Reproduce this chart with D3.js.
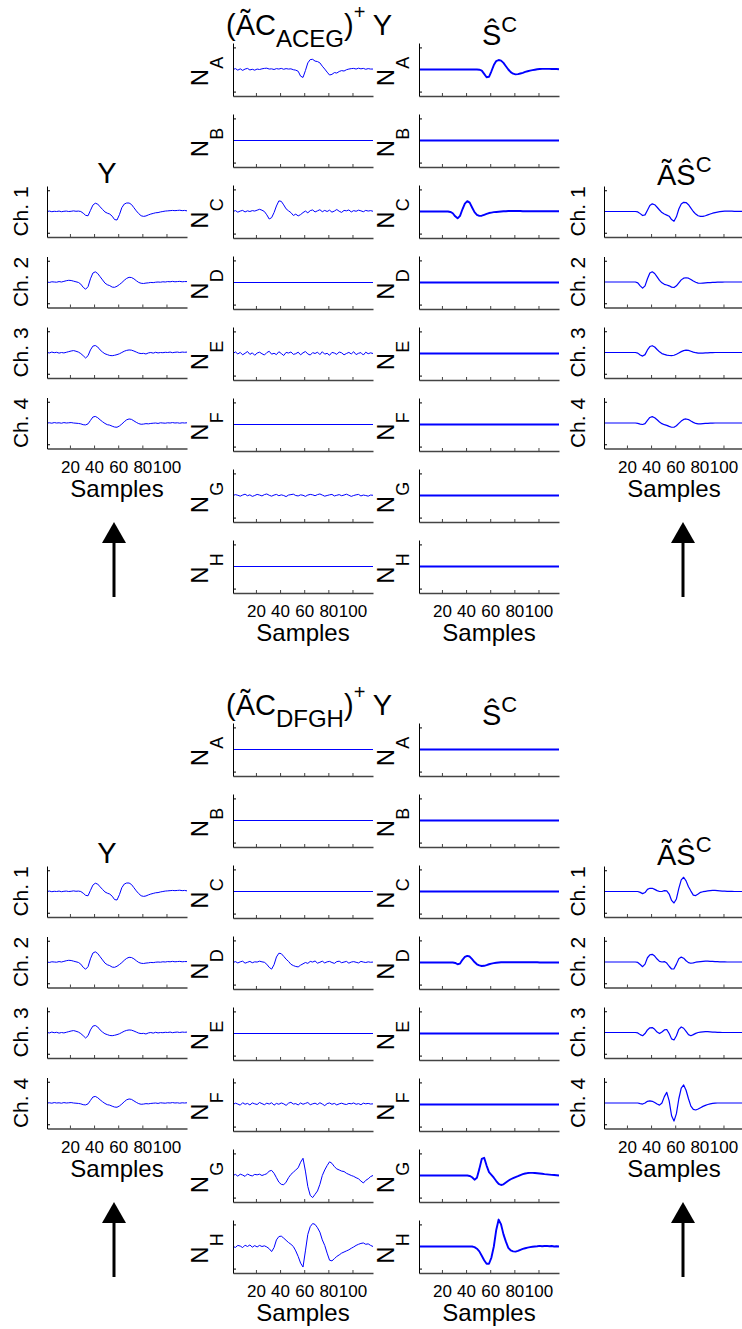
<!DOCTYPE html>
<html><head><meta charset="utf-8">
<script src="https://cdn.jsdelivr.net/npm/d3@7"></script>
<style>body{margin:0;background:#fff} svg{display:block;font-family:Arial,"Liberation Sans",sans-serif}</style>
</head><body><svg id="c" width="742" height="1329"></svg>
<script>
// sample index (x)
const SAMPLES = [1,3,5,7,9,11,13,15,17,19,21,23,25,27,29,31,33,35,37,39,41,43,45,47,49,51,53,55,57,59,61,63,65,67,69,71,73,75,77,79,81,83,85,87,89,91,93,95,97,99,101,103,105,107,109,111,113,115,117];
const X_TICKS = [20,40,60,80,100];
const Y_TICKS = [-1,1];
const CHANNELS = ["Ch. 1","Ch. 2","Ch. 3","Ch. 4"];
const SOURCES = ["A","B","C","D","E","F","G","H"];

// observed channels Y (same in both halves)
const yCh1 = [0.00,0.02,-0.01,0.01,0.00,0.02,-0.01,0.01,0.02,0.00, 0.01,0.03,0.01,0.02,0.00,-0.08,-0.18,-0.20,0.05,0.30, 0.39,0.35,0.22,0.10,-0.02,-0.08,-0.12,-0.22,-0.38,-0.40, -0.15,0.18,0.35,0.40,0.40,0.33,0.18,0.03,-0.10,-0.20, -0.23,-0.21,-0.16,-0.12,-0.09,-0.06,-0.05,-0.02,0.00,0.02, 0.03,0.04,0.05,0.04,0.05,0.06,0.04,0.05,0.03];
const yCh2 = [0.00,-0.02,0.01,0.00,-0.01,0.02,0.00,0.03,0.06,0.08, 0.07,0.04,0.01,-0.02,-0.10,-0.25,-0.34,-0.22,0.15,0.42, 0.48,0.40,0.25,0.10,-0.05,-0.13,-0.17,-0.24,-0.25,-0.20, -0.12,-0.03,0.08,0.17,0.22,0.21,0.15,0.06,-0.02,-0.06, -0.07,-0.05,-0.04,-0.02,-0.03,-0.01,0.00,-0.01,0.01,0.00, 0.02,0.01,0.03,0.01,0.02,0.03,0.01,0.02,0.02];
const yCh3 = [0.00,-0.02,0.02,-0.01,0.01,-0.03,0.00,-0.02,0.01,0.04, 0.07,0.09,0.06,0.02,-0.05,-0.15,-0.26,-0.15,0.12,0.30, 0.33,0.26,0.12,0.02,-0.06,-0.10,-0.14,-0.15,-0.13,-0.10, -0.06,0.00,0.06,0.10,0.12,0.11,0.07,0.02,-0.03,-0.05, -0.04,-0.07,-0.02,0.00,-0.03,0.01,-0.02,0.00,-0.01,0.01, 0.00,0.02,-0.01,0.01,0.02,0.00,0.02,0.01,0.02];
const yCh4 = [0.00,0.01,-0.01,0.02,0.00,0.01,-0.01,0.02,0.00,0.01, 0.02,0.00,-0.01,-0.02,-0.04,-0.08,-0.09,-0.04,0.12,0.28, 0.31,0.25,0.15,0.06,-0.02,-0.08,-0.10,-0.15,-0.19,-0.20, -0.14,-0.05,0.06,0.15,0.19,0.17,0.10,0.03,-0.03,-0.06, -0.05,-0.03,-0.04,-0.02,-0.01,0.00,-0.02,0.01,0.00,-0.01, 0.01,0.00,0.02,0.00,0.01,-0.01,0.01,0.00,0.01];

// top half: (AC_ACEG)^+ Y
const topPinvA = [0.00,0.04,-0.03,0.03,-0.04,0.02,0.05,-0.02,0.01,-0.03, 0.02,0.00,0.03,0.05,0.06,0.02,0.03,0.00,0.04,0.02, 0.05,0.01,0.04,0.02,0.03,-0.01,-0.03,-0.08,-0.30,-0.36, -0.05,0.30,0.45,0.46,0.38,0.36,0.30,0.15,0.02,-0.12, -0.25,-0.22,-0.14,-0.16,-0.09,-0.05,-0.07,-0.01,0.02,0.04, 0.05,0.02,0.06,0.03,0.05,0.01,0.04,0.02,0.02];
const topPinvC = [0.00,0.04,-0.03,0.02,0.05,-0.02,0.03,0.00,0.04,0.02, 0.06,0.10,0.06,0.00,-0.15,-0.34,-0.28,-0.05,0.25,0.48, 0.46,0.30,0.12,0.03,-0.05,-0.18,-0.12,-0.20,-0.14,-0.05, 0.02,-0.06,0.04,0.07,-0.02,0.03,0.08,-0.01,0.05,0.00, 0.06,-0.03,0.02,0.09,0.01,-0.04,0.05,0.03,0.07,-0.02, 0.04,0.01,0.06,0.03,-0.01,0.05,0.02,0.04,0.01];
const topPinvE = [0.00,0.07,-0.02,0.05,-0.06,0.01,0.09,-0.04,0.03,-0.08, 0.02,0.06,-0.01,-0.07,0.04,0.10,-0.03,0.01,-0.05,0.08, 0.00,-0.09,0.05,0.02,0.07,-0.04,-0.01,0.06,-0.06,0.03, 0.09,-0.02,-0.07,0.04,0.00,0.06,-0.05,0.08,-0.03,0.01, -0.08,0.05,0.02,-0.04,0.07,0.03,-0.06,0.00,0.05,-0.02, 0.08,-0.05,0.01,0.04,-0.07,0.06,-0.01,0.03,0.00];
const topPinvG = [0.00,0.04,0.01,-0.03,0.02,0.06,-0.01,0.03,-0.04,0.00, 0.05,0.02,-0.02,0.04,0.07,0.01,-0.03,0.02,0.05,-0.01, 0.03,0.00,-0.05,0.02,0.04,0.06,0.00,-0.02,0.03,0.01, -0.04,0.02,0.05,0.03,-0.01,0.04,0.07,0.02,-0.03,0.00, 0.03,0.05,-0.02,0.01,0.04,-0.01,0.02,0.06,0.01,-0.04, 0.00,0.03,0.05,-0.02,0.02,0.00,-0.03,0.02,0.01];
// top half: S-hat
const topShatA = [0,0,0,0,0,0,0,0,0,0, 0,0,0,0,0,0,0,0,0,0, 0,0,0,0,0,-0.01,-0.05,-0.20,-0.35,-0.33, -0.08,0.20,0.38,0.43,0.40,0.30,0.15,0.00,-0.12,-0.19, -0.22,-0.21,-0.18,-0.15,-0.11,-0.08,-0.05,-0.03,-0.01,0.01, 0.02,0.03,0.03,0.03,0.03,0.02,0.02,0.02,0.01];
const topShatC = [0,0,0,0,0,0,0,0,0,0, 0,0,0,-0.02,-0.08,-0.22,-0.31,-0.20,0.10,0.36, 0.47,0.40,0.18,-0.03,-0.15,-0.20,-0.19,-0.15,-0.11,-0.07, -0.05,-0.03,-0.02,-0.01,0.00,0.01,0.01,0.02,0.02,0.02, 0.02,0.02,0.02,0.01,0.01,0.01,0.01,0.01,0.01,0.01, 0.01,0.01,0.01,0.01,0.01,0.01,0.01,0.01,0.01];
// top half: A S-hat
const topRec1 = [0,0,0,0,0,0,0,0,0,0, 0,0,0,0,-0.02,-0.10,-0.19,-0.16,0.06,0.28, 0.36,0.32,0.20,0.07,-0.05,-0.12,-0.17,-0.22,-0.38,-0.46, -0.25,0.12,0.35,0.43,0.42,0.32,0.16,0.00,-0.12,-0.20, -0.23,-0.23,-0.20,-0.16,-0.12,-0.08,-0.05,-0.03,-0.01,0.01, 0.02,0.02,0.02,0.02,0.01,0.01,0.01,0.01,0.01];
const topRec2 = [0,0,0,0,0,0,0,0,0,0, 0,0,0,0,-0.04,-0.18,-0.29,-0.18,0.15,0.42, 0.48,0.40,0.24,0.08,-0.04,-0.11,-0.14,-0.18,-0.24,-0.26, -0.18,-0.04,0.10,0.18,0.20,0.18,0.12,0.05,-0.01,-0.05, -0.06,-0.05,-0.04,-0.03,-0.03,-0.02,-0.02,-0.01,-0.01,-0.01, 0,0,0,0,0,0,0,0,0];
const topRec3 = [0,0,0,0,0,0,0,0,0,0, 0,0,0,0,-0.03,-0.12,-0.17,-0.10,0.12,0.28, 0.32,0.26,0.14,0.03,-0.05,-0.09,-0.12,-0.14,-0.15,-0.13, -0.08,-0.02,0.04,0.09,0.11,0.10,0.06,0.02,-0.01,-0.03, -0.03,-0.03,-0.02,-0.02,-0.01,-0.01,0,0,0,0, 0,0,0,0,0,0,0,0,0];
const topRec4 = [0,0,0,0,0,0,0,0,0,0, 0,0,0,0,-0.02,-0.05,-0.07,-0.03,0.12,0.26, 0.30,0.25,0.15,0.05,-0.03,-0.08,-0.11,-0.16,-0.20,-0.20, -0.13,-0.02,0.09,0.17,0.19,0.16,0.09,0.03,-0.02,-0.04, -0.04,-0.03,-0.02,-0.02,-0.01,-0.01,0,0,0,0, 0,0,0,0,0,0,0,0,0];

// bottom half: (AC_DFGH)^+ Y
const botPinvD = [0.00,0.04,-0.02,0.03,0.06,-0.03,0.01,0.05,-0.01,0.03, 0.02,0.06,0.03,0.01,-0.08,-0.22,-0.30,-0.10,0.25,0.42, 0.40,0.28,0.15,0.05,-0.08,-0.14,-0.18,-0.20,-0.12,-0.06, 0.00,-0.04,0.05,0.02,0.07,-0.03,0.01,0.06,-0.02,0.03, 0.05,0.00,-0.04,0.04,0.06,-0.01,0.02,0.05,-0.03,0.02, 0.04,0.01,-0.02,0.05,0.02,0.00,0.03,0.01,0.02];
const botPinvF = [0.00,0.06,0.02,-0.03,0.08,0.01,0.05,-0.02,0.07,0.03, 0.00,0.09,0.04,-0.01,0.06,0.02,0.08,-0.03,0.05,0.01, 0.07,0.03,-0.04,0.06,0.10,0.02,0.04,-0.02,0.07,0.01, 0.05,0.09,-0.01,0.03,0.06,0.00,0.08,0.02,-0.05,0.04, 0.07,0.01,0.05,-0.02,0.03,0.06,0.02,0.00,0.05,0.03, 0.07,0.01,0.04,-0.01,0.06,0.03,0.05,0.02,0.03];
const botPinvG = [0.00,0.05,-0.03,0.06,0.02,-0.04,0.07,0.01,-0.02,0.05, 0.03,0.06,0.00,0.04,0.08,0.20,0.23,0.10,-0.10,-0.30, -0.40,-0.42,-0.30,-0.10,0.05,0.15,0.25,0.35,0.60,0.78, 0.20,-0.50,-0.90,-1.00,-0.85,-0.70,-0.40,0.00,0.25,0.45, 0.62,0.55,0.40,0.30,0.25,0.20,0.18,0.10,0.05,0.00, -0.04,-0.10,-0.15,-0.25,-0.34,-0.22,-0.15,-0.05,0.00];
const botPinvH = [0.00,-0.04,0.05,0.02,-0.05,0.06,0.00,0.07,-0.03,0.04, -0.02,0.05,0.00,0.03,-0.02,-0.10,-0.23,-0.05,0.30,0.45, 0.47,0.38,0.28,0.18,0.10,0.00,-0.20,-0.45,-0.75,-0.93, -0.20,0.55,0.90,1.04,1.00,0.85,0.65,0.30,0.05,-0.30, -0.62,-0.65,-0.55,-0.45,-0.38,-0.30,-0.25,-0.20,-0.15,-0.08, -0.02,0.05,0.10,0.14,0.16,0.10,0.12,0.05,0.00];
// bottom half: S-hat
const botShatD = [0,0,0,0,0,0,0,0,0,0, 0,0,0,0,0,-0.02,-0.08,-0.05,0.12,0.25, 0.30,0.27,0.15,0.02,-0.08,-0.13,-0.16,-0.15,-0.12,-0.08, -0.05,-0.03,-0.01,0,0.01,0.01,0.01,0.01,0.01,0.01, 0.01,0.01,0.01,0.01,0.01,0.01,0.01,0.01,0.01,0.01, 0,0,0,0,0,0,0,0,0];
const botShatG = [0,0,0,0,0,0,0,0,0,0, 0,0,0,0,0,0,0,0,0,0, 0,-0.02,-0.08,-0.19,-0.10,0.30,0.75,0.80,0.45,0.15, 0.03,-0.10,-0.25,-0.38,-0.43,-0.40,-0.32,-0.24,-0.17,-0.12, -0.07,-0.03,0.02,0.06,0.09,0.11,0.12,0.12,0.11,0.10, 0.09,0.08,0.06,0.05,0.04,0.03,0.02,0.01,0.00];
const botShatH = [0,0,0,0,0,0,0,0,0,0, 0,0,0,0,0,0,0,0,0,0, 0,0,0,-0.03,-0.10,-0.22,-0.42,-0.62,-0.78,-0.78, -0.50,0.00,0.75,1.22,1.00,0.55,0.22,-0.06,-0.18,-0.22, -0.23,-0.20,-0.15,-0.11,-0.08,-0.05,-0.03,-0.01,0.00,0.01, 0.03,0.01,0.02,0.03,0.01,0.02,0.00,0.01,0.00];
// bottom half: A S-hat
const botRec1 = [0,0,0,0,0,0,0,0,0,0, 0,0,0,0,0,-0.04,-0.10,-0.05,0.10,0.15, 0.15,0.10,0.04,0.00,0.00,0.04,0.03,-0.12,-0.42,-0.54, -0.35,0.15,0.55,0.67,0.50,0.22,0.02,-0.17,-0.19,-0.12, -0.04,-0.01,0.01,0.03,0.04,0.05,0.05,0.04,0.03,0.02, 0.02,0.01,0.01,0.01,0,0,0,0,0];
const botRec2 = [0,0,0,0,0,0,0,0,0,0, 0,0,0,0,-0.02,-0.12,-0.22,-0.10,0.20,0.34, 0.36,0.28,0.14,0.03,0.00,0.02,-0.05,-0.20,-0.33,-0.32, -0.10,0.15,0.23,0.18,0.06,-0.03,-0.06,-0.04,-0.01,0.01, 0.02,0.03,0.04,0.04,0.03,0.03,0.02,0.02,0.01,0.01, 0.01,0,0,0,0,0,0,0,0];
const botRec3 = [0,0,0,0,0,0,0,0,0,0, 0,0,0,0,-0.02,-0.10,-0.15,-0.05,0.12,0.22, 0.23,0.15,0.02,-0.05,0.02,0.12,0.14,-0.05,-0.30,-0.35, -0.15,0.15,0.26,0.20,0.05,-0.10,-0.15,-0.10,-0.04,0.00, 0.02,0.03,0.04,0.04,0.03,0.02,0.02,0.01,0.01,0.00, 0,0,0,0,0,0,0,0,0];
const botRec4 = [0,0,0,0,0,0,0,0,0,0, 0,0,0,0,0,-0.03,-0.05,0.00,0.08,0.10, 0.08,0.02,-0.05,-0.10,0.00,0.30,0.50,0.10,-0.60,-0.85, -0.50,0.20,0.70,0.85,0.60,0.20,-0.15,-0.30,-0.33,-0.28, -0.22,-0.16,-0.11,-0.07,-0.04,-0.02,-0.01,0,0,0, 0,0,0,0,0,0,0,0,0];

const HALVES = [
  { dy: 0, sub: "ACEG",
    pinv: [topPinvA,null,topPinvC,null,topPinvE,null,topPinvG,null],
    shat: [topShatA,null,topShatC,null,null,null,null,null],
    rec: [topRec1,topRec2,topRec3,topRec4] },
  { dy: 680, sub: "DFGH",
    pinv: [null,null,null,botPinvD,null,botPinvF,botPinvG,botPinvH],
    shat: [null,null,null,botShatD,null,null,botShatG,botShatH],
    rec: [botRec1,botRec2,botRec3,botRec4] }
];
const OBS = [yCh1,yCh2,yCh3,yCh4];

// ---------- drawing ----------
const svg = d3.select("#c");
const PW = 140;
const xS = d3.scaleLinear().domain([1,117]).range([0,PW]);
const BLUE = "#0000ff";

function panel(x0, y0, h, series, o) {
  const g = svg.append("g").attr("transform", `translate(${x0},${y0})`);
  const yS = d3.scaleLinear().domain([-1.2,1.2]).range([h,0]);
  const line = d3.line().x((d,i)=>xS(SAMPLES[i])).y(d=>yS(d));
  if (series) {
    g.append("path").datum(series).attr("d", line).attr("fill","none")
      .attr("stroke", BLUE).attr("stroke-width", o.lw).attr("stroke-linejoin","round");
  } else {
    g.append("path").datum([0,0]).attr("d", d3.line().x((d,i)=>xS(i?117:1)).y(d=>yS(d)))
      .attr("fill","none").attr("stroke", BLUE).attr("stroke-width", o.lw);
  }
  const ax = d3.axisBottom(xS).tickValues(X_TICKS).tickSizeInner(-3).tickSizeOuter(0).tickPadding(12);
  if (!o.labels) ax.tickFormat("");
  const gx = g.append("g").attr("transform", `translate(0,${h})`).call(ax);
  gx.select(".domain").attr("stroke","#444").attr("stroke-width",1.6);
  gx.selectAll(".tick line").attr("stroke","#444");
  gx.selectAll("text").attr("font-size",17).attr("font-family","Arial, Liberation Sans, sans-serif").attr("fill","#000");
  const ay = d3.axisLeft(yS).tickValues(Y_TICKS).tickSizeInner(-3).tickSizeOuter(0).tickFormat("");
  const gy = g.append("g").call(ay);
  gy.select(".domain").attr("stroke","#000");
  gy.selectAll(".tick line").attr("stroke","#000");
  if (o.labels) {
    g.append("text").attr("x", PW/2).attr("y", h+48).attr("text-anchor","middle")
      .attr("font-size",24).text("Samples");
  }
  if (o.ch) {
    g.append("text").attr("transform", `translate(-19,${h/2}) rotate(-90)`)
      .attr("text-anchor","middle").attr("font-size",21).text(o.ch);
  }
  if (o.src) {
    const t = g.append("text").attr("transform", `translate(-25,${h/2+2}) rotate(-90)`)
      .attr("text-anchor","middle").attr("font-size",24);
    t.append("tspan").text("N");
    t.append("tspan").attr("dy",15).attr("font-size",18).text(o.src);
  }
}

function arrow(x, y0) {
  svg.append("line").attr("x1",x).attr("x2",x).attr("y1",y0+18).attr("y2",y0+75)
    .attr("stroke","#000").attr("stroke-width",3);
  svg.append("path").attr("d",`M${x},${y0} L${x-12},${y0+21} L${x+12},${y0+21} Z`).attr("fill","#000");
}

function shatTitle(x, y, withA) {
  const t = svg.append("text").attr("x", x).attr("y", y).attr("font-size",29);
  t.append("tspan").text(withA ? "ÃŜ" : "Ŝ");
  t.append("tspan").attr("font-size",22).attr("dy",-13).text("C");
}

HALVES.forEach(H => {
  const dy = H.dy;
  const xY = 47, xP = 233, xS2 = 419, xR = 604;
  for (let k = 0; k < 8; k++) {
    const top = 43 + 71*k + dy;
    panel(xP, top, 53, H.pinv[k], {lw:1, labels: k===7, src: SOURCES[k]});
    panel(xS2, top, 53, H.shat[k], {lw:1.9, labels: k===7, src: SOURCES[k]});
  }
  for (let k = 0; k < 4; k++) {
    const top = 186 + 70.5*k + dy;
    panel(xY, top, 51, OBS[k], {lw:1, labels: k===3, ch: CHANNELS[k]});
    panel(xR, top, 51, H.rec[k], {lw:1.2, labels: k===3, ch: CHANNELS[k]});
  }
  svg.append("text").attr("x",107).attr("y",183+dy).attr("text-anchor","middle").attr("font-size",29).text("Y");
  const t = svg.append("text").attr("x",226).attr("y",35+dy).attr("font-size",29);
  t.append("tspan").text("(ÃC");
  t.append("tspan").attr("font-size",24).attr("dy",12).text(H.sub);
  t.append("tspan").attr("dy",-12).text(")");
  t.append("tspan").attr("font-size",20).attr("dy",-16).text("+");
  t.append("tspan").attr("dy",16).text(" Y");
  shatTitle(482, 45+dy, false);
  shatTitle(657, 185+dy, true);
  arrow(114, 522+dy);
  arrow(683, 522+dy);
});
</script></body></html>
